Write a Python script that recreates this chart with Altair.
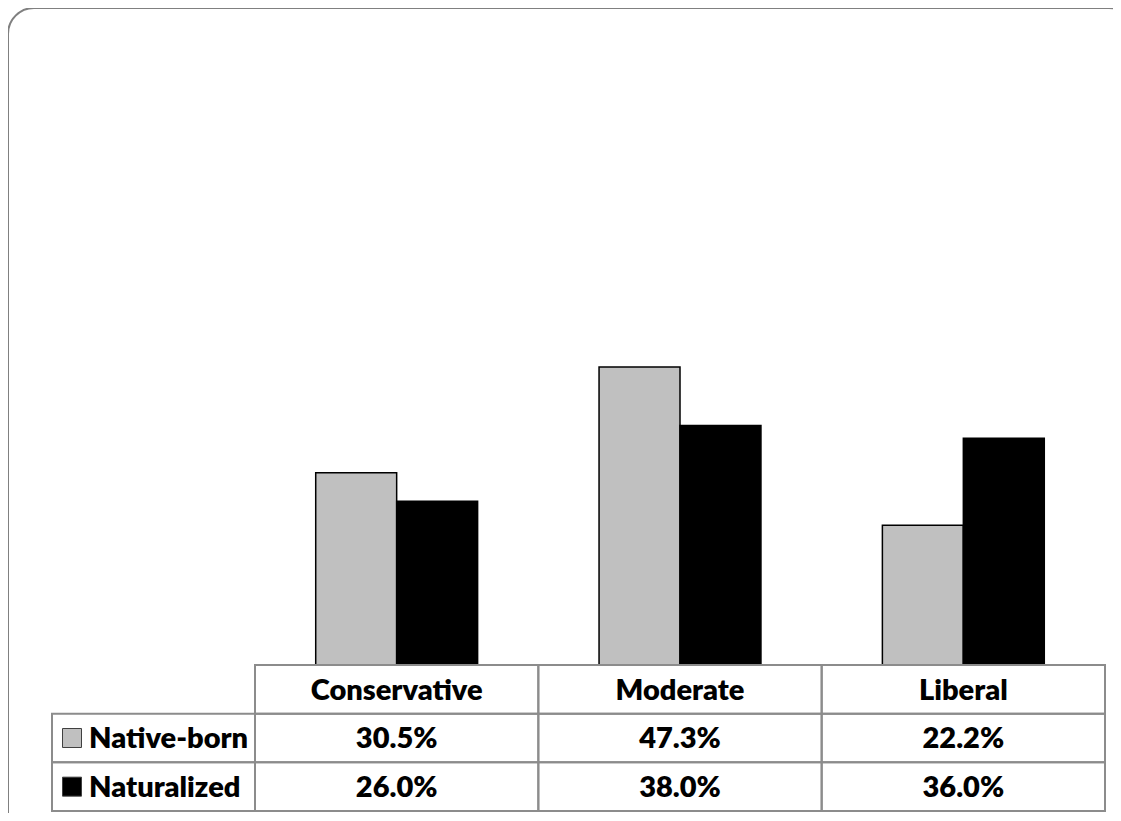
import altair as alt
import pandas as pd

categories = ["Conservative", "Moderate", "Liberal"]
series = ["Native-born", "Naturalized"]
native_born = [30.5, 47.3, 22.2]
naturalized = [26.0, 38.0, 36.0]
series_colors = ["#C0C0C0", "#000000"]
rows = ["header"] + series

values = []
for s, vals in zip(series, [native_born, naturalized]):
    for c, v in zip(categories, vals):
        values.append({"category": c, "series": s, "value": v, "row": s})
df = pd.DataFrame(values)
header_df = pd.DataFrame({"category": categories, "row": ["header"] * 3})
labels_df = pd.DataFrame({"series": series, "row": series})
frame_df = pd.DataFrame({"k": [0]})

FONT = "Lato"
FS = 29
FW = 800
W, H = 1105, 805
X_RANGE = [247, 1097]
Y_BAR_RANGE = [657, 27]
ROW_RANGE = [657, 803]

xcat = alt.X("category:N", sort=categories, axis=None,
             scale=alt.Scale(domain=categories, range=X_RANGE, paddingInner=0, paddingOuter=0))
yrow = alt.Y("row:N", axis=None,
             scale=alt.Scale(domain=rows, range=ROW_RANGE, paddingInner=0, paddingOuter=0))
color = alt.Color("series:N", legend=None,
                  scale=alt.Scale(domain=series, range=series_colors))

frame = alt.Chart(frame_df).mark_rect(
    fill="white", fillOpacity=0, stroke="#808080", strokeWidth=2, cornerRadius=26
).encode(x=alt.value(0), x2=alt.value(1127), y=alt.value(0), y2=alt.value(830))

bars = alt.Chart(df).mark_bar(stroke="black", strokeWidth=1.5).encode(
    x=xcat,
    xOffset=alt.XOffset("series:N", sort=series,
                        scale=alt.Scale(domain=series, paddingOuter=0.75, paddingInner=0)),
    y=alt.Y("value:Q", axis=None, scale=alt.Scale(domain=[0, 100], range=Y_BAR_RANGE)),
    color=color,
)

cells = alt.Chart(pd.concat([df[["category", "row"]], header_df])).mark_rect(
    fill="white", fillOpacity=0, stroke="#8c8c8c", strokeWidth=2
).encode(x=xcat, y=yrow)

label_cells = alt.Chart(labels_df).mark_rect(
    fill="white", fillOpacity=0, stroke="#8c8c8c", strokeWidth=2
).encode(x=alt.value(44), x2=alt.value(247), y=yrow)

header_text = alt.Chart(header_df).mark_text(
    font=FONT, fontSize=FS, fontWeight=FW, color="black", baseline="middle", dy=2
).encode(x=xcat, y=yrow, text="category:N")

value_text = alt.Chart(df).transform_calculate(
    label="format(datum.value, '.1f') + '%'"
).mark_text(
    font=FONT, fontSize=FS, fontWeight=FW, color="black", baseline="middle", dy=1
).encode(x=xcat, y=yrow, text="label:N")

keys = alt.Chart(labels_df).mark_square(size=361, opacity=1, stroke="#404040", strokeWidth=1).encode(
    x=alt.value(64), y=yrow, color=color
)

label_text = alt.Chart(labels_df).mark_text(
    font=FONT, fontSize=FS, fontWeight=FW, color="black", baseline="middle", align="left", dy=1
).encode(x=alt.value(81), y=yrow, text="series:N")

chart = alt.layer(
    frame, bars, cells, label_cells, header_text, value_text, keys, label_text
).resolve_scale(y="independent").properties(
    width=W, height=H, padding=0, autosize=alt.AutoSizeParams(type="none"),
    background="white"
).configure_view(stroke=None)

chart.save("out.html", embed_options={"renderer": "svg", "actions": False})
